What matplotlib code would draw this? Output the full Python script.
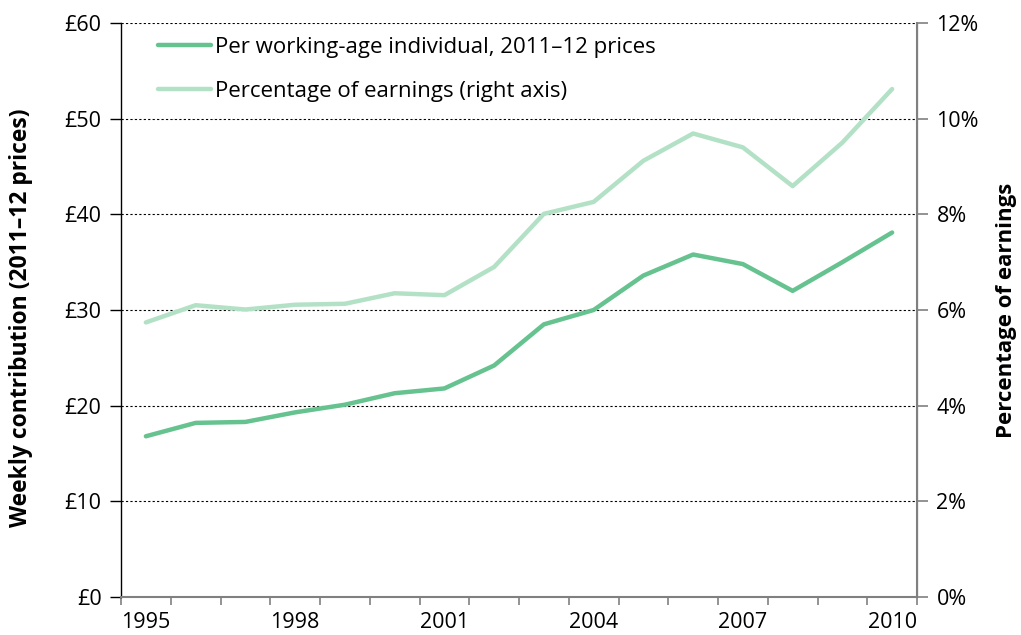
import matplotlib
matplotlib.use("Agg")
import matplotlib.pyplot as plt
import numpy as np

years = list(range(1995, 2011))
weekly = [16.8, 18.2, 18.3, 19.3, 20.1, 21.3, 21.8, 24.2, 28.5, 30.0, 33.6, 35.8, 34.8, 32.0, 35.0, 38.1]
pct = [5.74, 6.10, 6.01, 6.11, 6.13, 6.35, 6.31, 6.9, 8.01, 8.26, 9.12, 9.69, 9.40, 8.59, 9.50, 10.62]
left_ticks = [0, 10, 20, 30, 40, 50, 60]
left_labels = ["£0", "£10", "£20", "£30", "£40", "£50", "£60"]
right_ticks = [0, 2, 4, 6, 8, 10, 12]
right_labels = ["0%", "2%", "4%", "6%", "8%", "10%", "12%"]
label_years = [1995, 1998, 2001, 2004, 2007, 2010]

dark = "#66c28f"
light = "#b3e1c6"

plt.rcParams['font.family'] = ['Open Sans', 'DejaVu Sans']
fig = plt.figure(figsize=(10.21, 6.35), dpi=100)
ax = fig.add_axes([121/1021, 1-597/635, (917-121)/1021, (597-23)/635])
ax2 = ax.twinx()

x = np.arange(len(years))
l1, = ax.plot(x, weekly, color=dark, lw=3.2, solid_capstyle='round', zorder=3)
l2, = ax2.plot(x, pct, color=light, lw=3.2, solid_capstyle='round', zorder=3)

ax.set_xlim(-0.5, len(years) - 0.5)
ax.set_ylim(0, 60)
ax2.set_ylim(0, 12)

fs = 15.5
ax.set_yticks(left_ticks)
ax.set_yticklabels(left_labels, fontsize=fs)
ax2.set_yticks(right_ticks)
ax2.set_yticklabels(right_labels, fontsize=fs)

# x ticks at category boundaries, labels at centers
ax.set_xticks(np.arange(-0.5, len(years), 1.0))
ax.set_xticklabels([])
ax.set_xticks([years.index(y) for y in label_years], minor=True)
ax.set_xticklabels([str(y) for y in label_years], minor=True, fontsize=fs)
ax.tick_params(axis='x', which='major', length=6, color='#808080', width=1.2)
ax.tick_params(axis='x', which='minor', length=0, pad=11)
ax.tick_params(axis='y', length=8, color='#000000', width=1.0, pad=6)
ax2.tick_params(axis='y', length=8, color='#808080', width=1.2, pad=6)

for yv in left_ticks[1:]:
    ax.axhline(yv, color='#000000', lw=0.8, ls=(0, (2, 2)), zorder=1)

for s in ['top']:
    ax.spines[s].set_visible(False)
    ax2.spines[s].set_visible(False)
ax.spines['left'].set_color('#000000')
ax.spines['left'].set_linewidth(1.0)
ax.spines['bottom'].set_color('#808080')
ax.spines['bottom'].set_linewidth(1.5)
ax2.spines['right'].set_color('#808080')
ax2.spines['right'].set_linewidth(1.5)
ax2.spines['left'].set_visible(False)
ax2.spines['bottom'].set_visible(False)

ax.set_ylabel("Weekly contribution (2011–12 prices)", fontsize=16.5, fontweight='bold')
ax.yaxis.set_label_coords((33 - 121) / 796, (597 - 318) / 574)
ax2.set_ylabel("Percentage of earnings", fontsize=16, fontweight='bold')
ax2.yaxis.set_label_coords((996 - 121) / 796, (597 - 310) / 574)

leg = ax.legend([l1, l2], ["Per working-age individual, 2011–12 prices", "Percentage of earnings (right axis)"],
                loc='upper left', bbox_to_anchor=(0.021, 1.01), frameon=False, fontsize=16,
                handlelength=2.4, handletextpad=0.2, labelspacing=1.03)

fig.savefig("out.png", dpi=100)
